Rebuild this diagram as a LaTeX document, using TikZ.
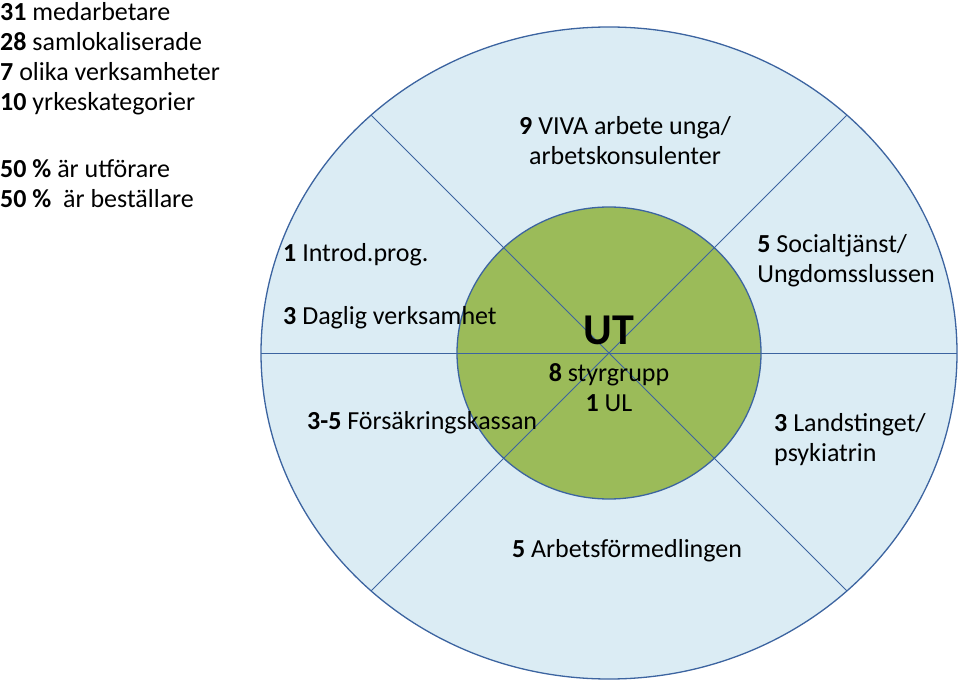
\documentclass[tikz,border=0pt]{standalone}
\usepackage{fontspec}
\setmainfont{Carlito}
\usetikzlibrary{arrows.meta}
\definecolor{ringfill}{RGB}{219,236,244}
\definecolor{ringedge}{RGB}{60,100,160}
\definecolor{corefill}{RGB}{155,187,89}
\begin{document}
\begin{tikzpicture}[x=1pt, y=1pt,
  ring/.style={draw=ringedge, line width=1.3pt, fill=ringfill},
  core/.style={draw=ringedge, line width=1.3pt, fill=corefill},
  spoke/.style={draw=ringedge, line width=0.8pt},
  txt/.style={font=\fontsize{26}{30}\selectfont, inner sep=0pt}]
\useasboundingbox (0,0) rectangle (960,681);
\coordinate (C) at (609,328);
\draw[ring] (C) ellipse [x radius=348, y radius=326];
\draw[core] (C) ellipse [x radius=152, y radius=146];
\coordinate (W) at (261,328);
\coordinate (E) at (957,328);
\coordinate (NW) at (371,566);
\coordinate (SE) at (847,90);
\coordinate (NE) at (847,566);
\coordinate (SW) at (371,90);
\draw[spoke] (W) -- (E);
\draw[spoke] (NW) -- (SE);
\draw[spoke] (NE) -- (SW);
% stats
\node[txt, anchor=west, align=left] (stats) at (0,622) {\textbf{31} medarbetare\\ \textbf{28} samlokaliserade\\ \textbf{7} olika verksamheter\\ \textbf{10} yrkeskategorier};
\node[txt, anchor=west, align=left] (roles) at (0,497) {\textbf{50 \%} är utförare\\ \textbf{50 \%}\ \ är beställare};
% sectors
\node[txt, align=center] (viva) at (625,540) {\textbf{9} VIVA arbete unga/\\ arbetskonsulenter};
\node[txt, anchor=west] (introd) at (283,426) {\textbf{1} Introd.prog.};
\node[txt, align=left] (soc) at (846,420) {\textbf{5} Socialtjänst/\\ Ungdomsslussen};
\node[txt, anchor=west] (daglig) at (283,363) {\textbf{3} Daglig verksamhet};
\node[txt, anchor=west] (fk) at (307,258) {\textbf{3-5} Försäkringskassan};
\node[txt, anchor=west, align=left] (lt) at (774,241) {\textbf{3} Landstinget/\\ psykiatrin};
\node[txt] (af) at (627,130) {\textbf{5} Arbetsförmedlingen};
% core
\node[txt, font=\fontsize{44}{48}\selectfont\bfseries] (ut) at (609,351) {UT};
\node[txt, align=center] (styr) at (609,293) {\textbf{8} styrgrupp\\ \textbf{1} UL};
\end{tikzpicture}
\end{document}
